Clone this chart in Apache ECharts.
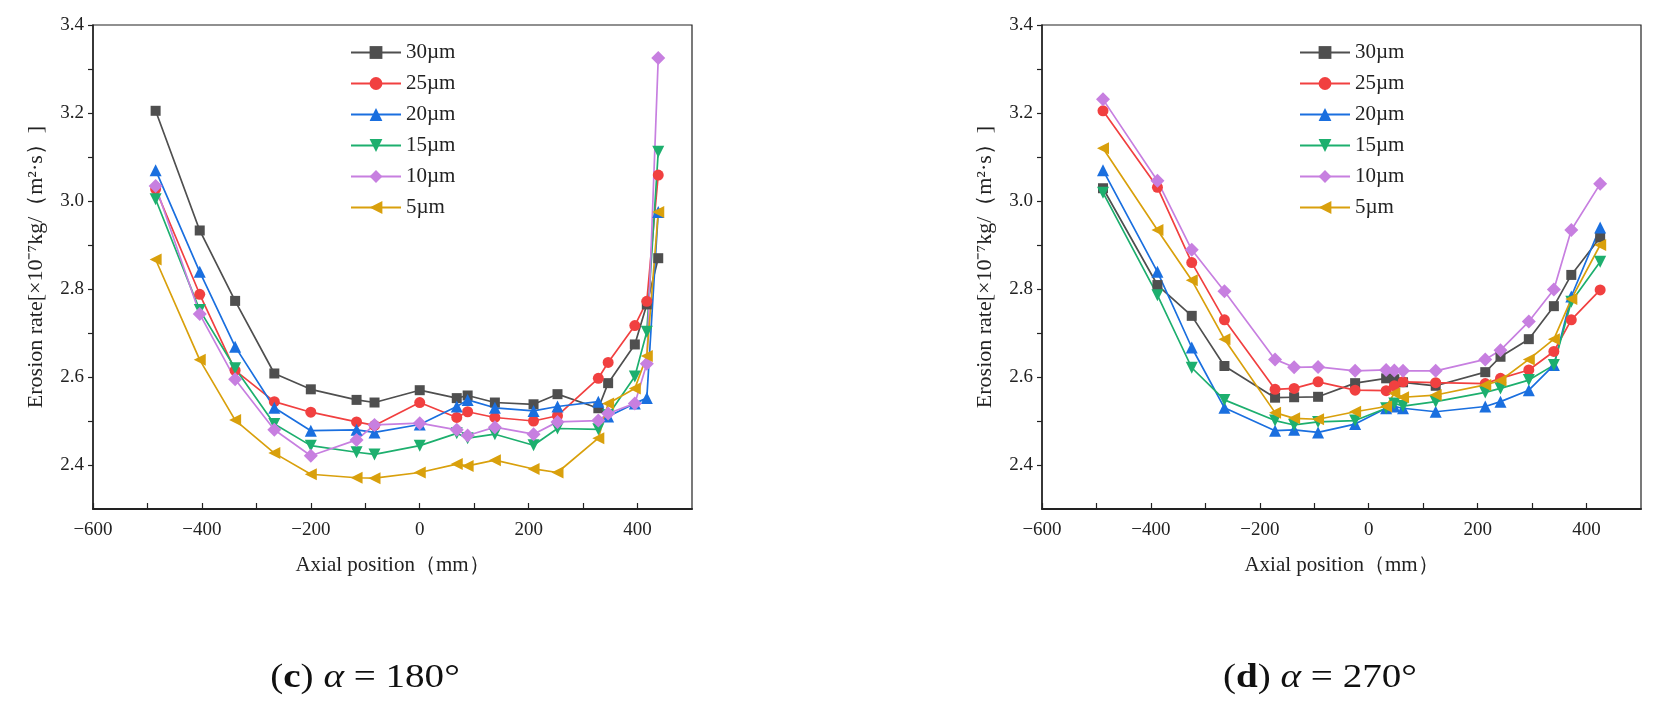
<!DOCTYPE html>
<html><head><meta charset="utf-8">
<script src="https://cdn.jsdelivr.net/npm/echarts@6/dist/echarts.min.js"></script>
<style>html,body{margin:0;padding:0;background:#fff}#c{width:1668px;height:712px}</style>
</head><body><div id="c"></div>
<script>
const seriesNames = ['30µm', '25µm', '20µm', '15µm', '10µm', '5µm'];
const xTickLabels = [-600, -400, -200, 0, 200, 400];
const yTickLabels = [2.4, 2.6, 2.8, 3.0, 3.2, 3.4];

// (c) alpha = 180°
const xC = [-485, -404, -339, -267, -200, -116, -83, 0, 68, 88, 138, 209, 253, 328, 346, 395, 417, 438];
const c30 = [3.205, 2.933, 2.773, 2.608, 2.572, 2.548, 2.542, 2.570, 2.552, 2.558, 2.542, 2.538, 2.561, 2.529, 2.586, 2.674, 2.765, 2.870];
const c25 = [3.027, 2.788, 2.615, 2.544, 2.520, 2.498, 2.490, 2.542, 2.508, 2.521, 2.508, 2.500, 2.512, 2.597, 2.633, 2.717, 2.772, 3.059];
const c20 = [3.070, 2.839, 2.669, 2.530, 2.478, 2.480, 2.474, 2.492, 2.533, 2.548, 2.530, 2.523, 2.533, 2.544, 2.510, 2.540, 2.552, 2.975];
const c15 = [3.004, 2.752, 2.620, 2.493, 2.444, 2.429, 2.424, 2.444, 2.472, 2.461, 2.470, 2.445, 2.483, 2.481, 2.513, 2.601, 2.703, 3.112];
const c10 = [3.034, 2.743, 2.595, 2.480, 2.421, 2.457, 2.491, 2.495, 2.480, 2.467, 2.486, 2.470, 2.498, 2.501, 2.517, 2.540, 2.630, 3.325];
const c5  = [2.867, 2.639, 2.502, 2.427, 2.379, 2.371, 2.370, 2.383, 2.402, 2.398, 2.411, 2.391, 2.383, 2.461, 2.540, 2.574, 2.648, 2.975];

// (d) alpha = 270°
const xD = [-488, -388, -325, -265, -172, -137, -93, -25, 32, 47, 63, 123, 214, 242, 294, 340, 372, 425];
const d30 = [3.029, 2.809, 2.739, 2.625, 2.553, 2.554, 2.555, 2.586, 2.597, 2.595, 2.588, 2.580, 2.611, 2.646, 2.686, 2.761, 2.832, 2.917];
const d25 = [3.205, 3.031, 2.860, 2.730, 2.572, 2.574, 2.589, 2.570, 2.569, 2.580, 2.589, 2.587, 2.585, 2.597, 2.616, 2.658, 2.730, 2.798];
const d20 = [3.070, 2.839, 2.667, 2.530, 2.478, 2.480, 2.474, 2.493, 2.529, 2.533, 2.529, 2.521, 2.533, 2.544, 2.570, 2.627, 2.783, 2.940];
const d15 = [3.019, 2.786, 2.621, 2.548, 2.501, 2.491, 2.498, 2.501, 2.529, 2.540, 2.534, 2.544, 2.565, 2.574, 2.593, 2.627, 2.771, 2.862];
const d10 = [3.231, 3.046, 2.889, 2.795, 2.640, 2.622, 2.623, 2.614, 2.616, 2.615, 2.614, 2.614, 2.640, 2.661, 2.726, 2.799, 2.934, 3.039];
const d5  = [3.120, 2.934, 2.820, 2.686, 2.519, 2.506, 2.504, 2.521, 2.533, 2.563, 2.554, 2.559, 2.582, 2.592, 2.640, 2.686, 2.777, 2.900];

const colors = ['#4f4f4f', '#f14040', '#1a6fdf', '#1daf6e', '#c77fe0', '#d9a00c'];
const symbols = ['rect', 'circle', 'triangle', 'triangle', 'diamond', 'triangle'];
const rotates = [0, 0, 0, 180, 0, 90];
const sizes = [10, 11, 12, 12, 14, 12];

const FONT = '"Liberation Serif", "Times New Roman", serif';
const chart = echarts.init(document.getElementById('c'), null, {renderer: 'canvas'});

function fmtX(v) {
  const r = Math.round(v);
  if (xTickLabels.indexOf(r) < 0) return '';
  return r < 0 ? '\u2212' + (-r) : String(r);
}
function fmtY(v) {
  const r = Math.round(v * 10) / 10;
  for (const t of yTickLabels) if (Math.abs(t - r) < 1e-6) return t.toFixed(1);
  return '';
}
function makeX(gi) {
  return {
    type: 'value', gridIndex: gi, min: -600, max: 500, interval: 100,
    name: 'Axial position（mm）', nameLocation: 'middle', nameGap: 46,
    nameTextStyle: {fontFamily: FONT, fontSize: 21, color: '#222'},
    axisLine: {show: true, onZero: false, lineStyle: {color: '#222', width: 2}},
    axisTick: {show: true, inside: true, length: 6, lineStyle: {color: '#222', width: 1.2}},
    axisLabel: {formatter: fmtX, margin: 12, fontFamily: FONT, fontSize: 19, color: '#222', showMaxLabel: false},
    splitLine: {show: false}
  };
}
function makeY(gi) {
  return {
    type: 'value', gridIndex: gi, min: 2.3, max: 3.4, interval: 0.1,
    name: 'Erosion rate[×10⁻⁷kg/（m²·s）]', nameLocation: 'middle', nameGap: 46,
    nameTextStyle: {fontFamily: FONT, fontSize: 22, color: '#222'},
    axisLine: {show: true, onZero: false, lineStyle: {color: '#222', width: 1.5}},
    axisTick: {show: true, inside: false, length: 5, lineStyle: {color: '#222', width: 1.2}},
    axisLabel: {formatter: fmtY, margin: 9, fontFamily: FONT, fontSize: 19, color: '#222', showMinLabel: false},
    splitLine: {show: false}
  };
}
function makeLegend(left) {
  return {
    orient: 'vertical', left: left, top: 37, itemWidth: 50, itemHeight: 16, itemGap: 10,
    data: seriesNames,
    textStyle: {fontFamily: FONT, fontSize: 21, color: '#222', lineHeight: 20}
  };
}
const dataC = [c30, c25, c20, c15, c10, c5];
const dataD = [d30, d25, d20, d15, d10, d5];
const series = [];
[[xC, dataC, 0], [xD, dataD, 1]].forEach(([xs, ds, gi]) => {
  ds.forEach((ys, i) => {
    series.push({
      name: seriesNames[i], type: 'line', xAxisIndex: gi, yAxisIndex: gi,
      data: xs.map((x, k) => [x, ys[k]]),
      symbol: symbols[i], symbolSize: sizes[i], symbolRotate: rotates[i],
      showAllSymbol: true,
      lineStyle: {color: colors[i], width: 1.7},
      itemStyle: {color: colors[i]},
      emphasis: {disabled: true},
      animation: false
    });
  });
});

const rich = {
  n: {fontFamily: FONT, fontSize: 34, fill: '#111'},
  b: {fontFamily: FONT, fontSize: 34, fontWeight: 'bold', fill: '#111'},
  i: {fontFamily: FONT, fontSize: 34, fontStyle: 'italic', fill: '#111'}
};
chart.setOption({
  backgroundColor: '#fff',
  animation: false,
  color: colors,
  grid: [
    {left: 93, top: 25, width: 599, height: 484, show: true, borderColor: '#222', borderWidth: 1.2, backgroundColor: 'transparent'},
    {left: 1042, top: 25, width: 599, height: 484, show: true, borderColor: '#222', borderWidth: 1.2, backgroundColor: 'transparent'}
  ],
  xAxis: [makeX(0), makeX(1)],
  yAxis: [makeY(0), makeY(1)],
  legend: [makeLegend(345), makeLegend(1294)],
  series: series,
  graphic: [
    {type: 'text', x: 365, y: 678, scaleX: 1.15, style: {
      text: '{n|(}{b|c}{n|)\u00a0}{i|α}{n|\u00a0=\u00a0180°}', align: 'center', verticalAlign: 'middle', rich: rich
    }},
    {type: 'text', x: 1320, y: 678, scaleX: 1.15, style: {
      text: '{n|(}{b|d}{n|)\u00a0}{i|α}{n|\u00a0=\u00a0270°}', align: 'center', verticalAlign: 'middle', rich: rich
    }}
  ]
});
</script>
</body></html>
